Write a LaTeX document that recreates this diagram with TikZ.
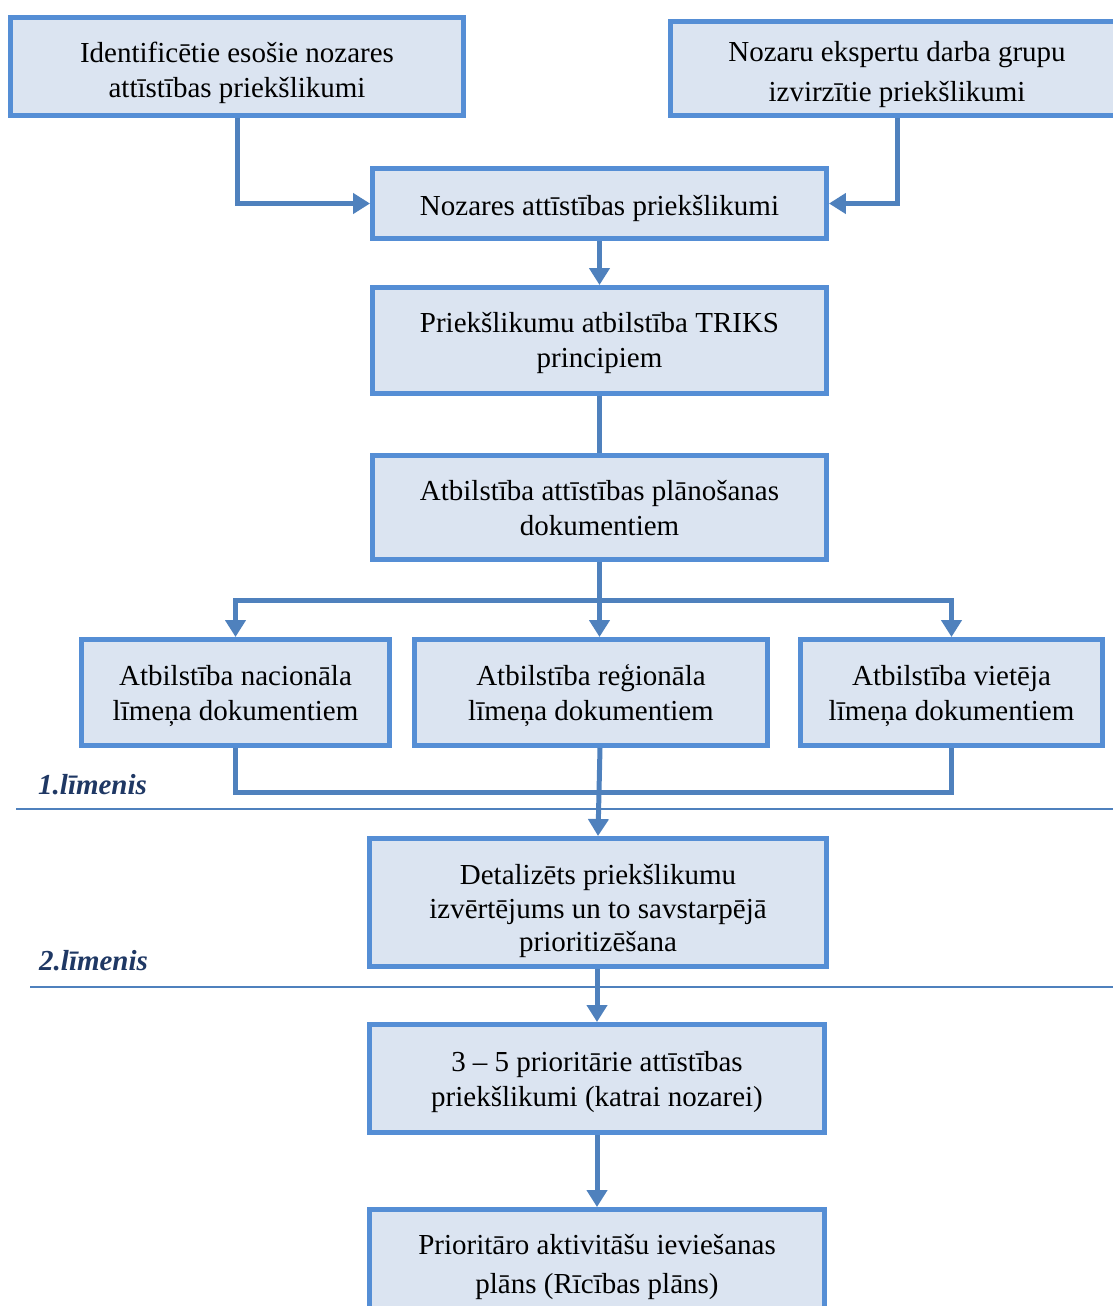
\documentclass[tikz,border=0pt]{standalone}
\usepackage{fontspec}
\setmainfont{Liberation Serif}
\usepackage{tikz}
\usetikzlibrary{arrows.meta}
\definecolor{boxfill}{HTML}{DBE4F1}
\definecolor{boxline}{HTML}{558ED5}
\definecolor{linkline}{HTML}{4F81BD}
\definecolor{levtext}{HTML}{1F3864}
\newcommand{\boxlift}[1]{\rule{0pt}{#1}}

\begin{document}
\begin{tikzpicture}[x=0.02cm, y=-0.02cm,
    box/.style={draw=boxline, fill=boxfill, line width=0.1cm, align=center,
      font=\fontsize{16.5}{20}\selectfont, inner sep=2pt, text depth=-2pt},
    link/.style={draw=linkline, line width=0.1cm},
    arr/.style={link, -{Triangle[length=0.34cm, width=0.4cm]}},
    levline/.style={draw=linkline, line width=0.8pt},
    lev/.style={font=\fontsize{16.5}{20}\selectfont\bfseries\itshape, text=levtext, anchor=west}]
    \useasboundingbox (0,0) rectangle (1113,1306);
    % top row
    \node[box, minimum width=9.06cm, minimum height=1.96cm] (ident) at (237,66.5)
      {\boxlift{15.5pt}Identificētie esošie nozares\\attīstības priekšlikumi};
    \node[box, minimum width=9.06cm, minimum height=1.88cm,
      font=\fontsize{16.5}{22.8}\selectfont] (ekspert) at (897,68.5)
      {\boxlift{14.5pt}Nozaru ekspertu darba grupu\\izvirzītie priekšlikumi};
    % main column
    \node[box, minimum width=9.08cm, minimum height=1.4cm] (nozares) at (599.5,203.5)
      {\boxlift{14pt}Nozares attīstības priekšlikumi};
    \node[box, minimum width=9.08cm, minimum height=2.12cm, text depth=0.5pt] (triks) at (599.5,340.5)
      {Priekšlikumu atbilstība TRIKS\\principiem};
    \node[box, minimum width=9.08cm, minimum height=2.08cm] (planos) at (599.5,507.5)
      {Atbilstība attīstības plānošanas\\dokumentiem};
    % three levels of documents
    \node[box, minimum width=6.16cm, minimum height=2.12cm] (nacion) at (235.5,692.5)
      {Atbilstība nacionāla\\līmeņa dokumentiem};
    \node[box, minimum width=7.06cm, minimum height=2.12cm] (region) at (591,692.5)
      {Atbilstība reģionāla\\līmeņa dokumentiem};
    \node[box, minimum width=6.04cm, minimum height=2.12cm] (vietej) at (951.5,692.5)
      {Atbilstība vietēja\\līmeņa dokumentiem};
    % lower column
    \node[box, minimum width=9.14cm, minimum height=2.56cm,
      font=\fontsize{16.5}{19.1}\selectfont] (detal) at (598,902.5)
      {\boxlift{18pt}Detalizēts priekšlikumu\\izvērtējums un to savstarpējā\\prioritizēšana};
    \node[box, minimum width=9.1cm, minimum height=2.16cm] (prior) at (597,1078.5)
      {3 – 5 prioritārie attīstības\\priekšlikumi (katrai nozarei)};
    \node[box, minimum width=9.1cm, minimum height=2.22cm, text depth=1pt,
      font=\fontsize{16.5}{22.2}\selectfont] (ricib) at (597,1265)
      {Prioritāro aktivitāšu ieviešanas\\plāns (Rīcības plāns)};
    % levels
    \node[lev] (lev1) at (32,785) {1.līmenis};
    \node[lev] (lev2) at (33,961) {2.līmenis};
    \draw[levline] (16,809) -- (1113,809);
    \draw[levline] (30,987) -- (1113,987);
    % connectors
    \coordinate (hub) at (599.5,600);
    \coordinate (merge) at (600,792);
    \draw[arr] (ident.south) |- (nozares.west);
    \draw[arr] (ekspert.south) |- (nozares.east);
    \draw[arr] (nozares) -- (triks);
    \draw[link] (triks) -- (planos);
    \draw[link] (planos.south) -- (hub);
    \draw[arr] (hub) -| (nacion.north);
    \draw[arr] (hub) -| (vietej.north);
    \draw[arr] (hub) -- (hub |- region.north);
    \draw[link] (nacion.south) |- (merge) -| (vietej.south);
    \draw[arr] (region.south -| merge) -- (detal.north);
    \draw[arr] (detal.south -| prior.north) -- (prior.north);
    \draw[arr] (prior) -- (ricib);
\end{tikzpicture}
\end{document}
